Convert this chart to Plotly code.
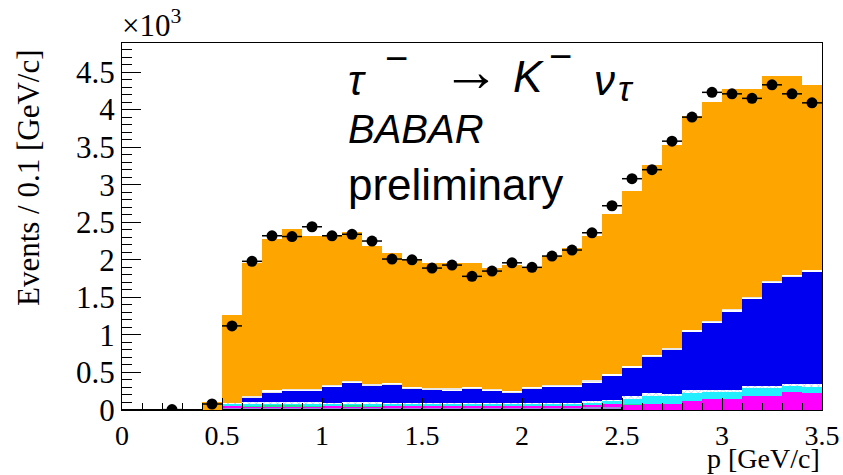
import plotly.graph_objects as go

# ---------------- data (units of 10^3 events per 0.1 GeV/c) ----------------
bin_lo = [round(0.1 * i, 1) for i in range(35)]
bin_centers = [round(b + 0.05, 2) for b in bin_lo]

# measured data points (None = empty bin)
data_vals = [None, None, 0.005, None, 0.08, 1.12, 1.98, 2.32, 2.31, 2.44,
             2.32, 2.34, 2.25, 2.01, 2.00, 1.89, 1.93, 1.78, 1.85, 1.96,
             1.90, 2.05, 2.13, 2.36, 2.72, 3.08, 3.20, 3.58, 3.90, 4.23,
             4.21, 4.15, 4.33, 4.21, 4.09]

# stacked MC components (bottom -> top)
purple  = [0, 0, 0, 0, 0, 0.035, 0.035, 0.035, 0.035, 0.035,
           0.035, 0.035, 0.035, 0.035, 0.035, 0.035, 0.035, 0.035, 0.035, 0.035,
           0.035, 0.035, 0.035, 0.035, 0.035, 0, 0, 0, 0, 0,
           0, 0, 0, 0, 0]
magenta = [0, 0, 0, 0, 0, 0.012, 0.012, 0.012, 0.012, 0.012,
           0.012, 0.012, 0.012, 0.012, 0.012, 0.012, 0.012, 0.012, 0.012, 0.012,
           0.012, 0.012, 0.012, 0.03, 0.04, 0.07, 0.08, 0.08, 0.12, 0.14,
           0.14, 0.19, 0.19, 0.24, 0.23]
green   = [0, 0, 0, 0, 0, 0, 0.01, 0.02, 0.02, 0.01,
           0, 0.015, 0.01, 0, 0, 0, 0, 0, 0, 0,
           0, 0, 0, 0, 0, 0.01, 0, 0, 0, 0,
           0, 0, 0, 0, 0]
cyan    = [0, 0, 0, 0, 0, 0.04, 0.035, 0.025, 0.025, 0.035,
           0.04, 0.03, 0.035, 0.04, 0.04, 0.04, 0.04, 0.04, 0.04, 0.04,
           0.04, 0.04, 0.04, 0.04, 0.05, 0.07, 0.11, 0.10, 0.11, 0.10,
           0.10, 0.10, 0.10, 0.08, 0.08]
hatched = [0, 0, 0, 0, 0, 0.01, 0.01, 0.01, 0.01, 0.01,
           0.01, 0.01, 0.01, 0.01, 0.01, 0.01, 0.01, 0.01, 0.01, 0.01,
           0.01, 0.01, 0.01, 0.01, 0.01, 0.03, 0.03, 0.03, 0.03, 0.03,
           0.03, 0.03, 0.03, 0.03, 0.03]
blue    = [0, 0, 0, 0, 0, 0, 0.06, 0.13, 0.15, 0.15,
           0.21, 0.26, 0.22, 0.23, 0.18, 0.17, 0.16, 0.18, 0.15, 0.13,
           0.18, 0.21, 0.21, 0.25, 0.32, 0.38, 0.48, 0.59, 0.78, 0.89,
           1.04, 1.16, 1.37, 1.42, 1.50]
strip   = [0, 0, 0, 0, 0, 0, 0.03, 0.03, 0.03, 0.03,
           0.03, 0.03, 0.03, 0.03, 0.03, 0.03, 0.03, 0.03, 0.03, 0.03,
           0.03, 0.03, 0.03, 0.03, 0.03, 0.03, 0.03, 0.03, 0.03, 0.03,
           0.03, 0.03, 0.03, 0.03, 0.03]
orange  = [0, 0, 0, 0, 0.10, 1.17, 1.77, 2.02, 2.13, 2.04,
           1.98, 1.98, 1.83, 1.73, 1.71, 1.66, 1.67, 1.65, 1.62, 1.67,
           1.59, 1.71, 1.82, 1.92, 2.12, 2.33, 2.53, 2.70, 2.85, 2.91,
           2.93, 2.76, 2.73, 2.65, 2.46]

y_ticks = [0, 0.5, 1, 1.5, 2, 2.5, 3, 3.5, 4, 4.5]
y_tick_labels = ["0", "0.5", "1", "1.5", "2", "2.5", "3", "3.5", "4", "4.5"]
x_ticks = [0, 0.5, 1, 1.5, 2, 2.5, 3, 3.5]
x_tick_labels = ["0", "0.5", "1", "1.5", "2", "2.5", "3", "3.5"]

# ---------------- figure ----------------
W, H = 843, 475
L, R, T, B = 122, 21, 43, 65

fig = go.Figure()

def add_layer(vals, color, name, line_w=0, line_c="black", pattern=None):
    fig.add_trace(go.Bar(
        x=bin_centers, y=vals, width=0.1, name=name,
        marker=dict(color=color, line=dict(width=line_w, color=line_c),
                    pattern=pattern if pattern else dict()),
        showlegend=False, hoverinfo="skip"))

add_layer(purple, "#9a8ad8", "other", line_w=1, line_c="black")
add_layer(magenta, "#ff00ff", "magenta")
add_layer(green, "#22dd99", "green")
add_layer(cyan, "#22eeff", "cyan")
add_layer(hatched, "#ffffff", "hatched",
          pattern=dict(shape="x", fgcolor="#6aa0ff", size=5, solidity=0.3))
add_layer(blue, "#0000f0", "blue")
add_layer(strip, "#ffffff", "strip",
          pattern=dict(shape="-", fgcolor="#c8c0c0", size=4, solidity=0.4))
add_layer(orange, "#ffa500", "signal")

fig.add_trace(go.Scatter(
    x=bin_centers, y=data_vals, mode="markers",
    marker=dict(color="black", size=11),
    error_x=dict(type="constant", value=0.05, width=0, thickness=1.5, color="black"),
    showlegend=False, hoverinfo="skip"))

serif = "Liberation Serif, Times New Roman, serif"
sans = "Liberation Sans, Arial, sans-serif"

fig.update_layout(
    width=W, height=H, autosize=False,
    margin=dict(l=L, r=R, t=T, b=B, autoexpand=False),
    paper_bgcolor="white", plot_bgcolor="white",
    barmode="stack", bargap=0,
    xaxis=dict(range=[0, 3.5], tickvals=x_ticks, ticktext=x_tick_labels,
               automargin=False,
               ticks="inside", ticklen=12, tickwidth=1, tickcolor="black",
               minor=dict(ticks="inside", ticklen=7, dtick=0.1, tickcolor="black"),
               showline=True, linecolor="black", linewidth=1, mirror=True,
               showgrid=False, zeroline=False,
               tickfont=dict(family=serif, size=28, color="black")),
    yaxis=dict(range=[0, 4.887], tickvals=y_ticks, ticktext=y_tick_labels,
               automargin=False,
               ticks="inside", ticklen=19, tickwidth=1, tickcolor="black",
               minor=dict(ticks="inside", ticklen=10, dtick=0.1, tickcolor="black"),
               showline=True, linecolor="black", linewidth=1, mirror=True,
               showgrid=False, zeroline=False,
               tickfont=dict(family=serif, size=31, color="black")),
)

pw, ph = W - L - R, H - T - B

def px(xp):
    return (xp - L) / pw

def py(yp):
    return (H - B - yp) / ph

def txt(text, x, y, size, family=sans, xa="left", ya="middle", angle=0):
    return dict(text=text, x=px(x), y=py(y), xanchor=xa, yanchor=ya,
                textangle=angle, xref="paper", yref="paper", showarrow=False,
                font=dict(family=family, size=size, color="black"))

ann = [
    txt("×10<sup>3</sup>", 120, 45, 31, family=serif, ya="bottom"),
    txt("Events / 0.1 [GeV/c]", 28, 178, 31, family=serif, xa="center", angle=-90),
    txt("p [GeV/c]", 822, 476, 28, family=serif, xa="right", ya="bottom"),
    # decay formula, glyph by glyph
    txt("<i>τ</i>", 346, 80, 42),
    txt("−", 383, 58, 40),
    txt("→", 440, 70, 58),
    txt("<i>K</i>", 511, 76, 44),
    txt("−", 547, 56, 40),
    txt("<i>ν</i>", 592, 80, 42),
    txt("<i>τ</i>", 616, 89, 36),
    txt("<i>BABAR</i>", 346, 129, 40),
    txt("preliminary", 346, 184, 44),
]
fig.update_layout(annotations=ann)

post = (
    "document.documentElement.style.overflow='hidden';"
    "document.body.style.overflow='hidden';"
    "document.body.style.margin='0';document.body.style.padding='0';"
)
fig.write_html("out.html", config={"displayModeBar": False, "responsive": False},
               post_script=post)
